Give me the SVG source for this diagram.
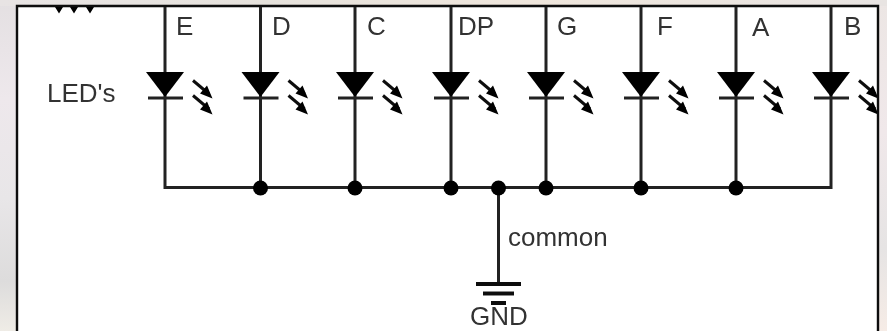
<svg xmlns="http://www.w3.org/2000/svg" width="887" height="331" viewBox="0 0 887 331">
<style>
.w{fill:none;stroke:#222;stroke-width:3}
.a{fill:none;stroke:#111;stroke-width:3}
.t{font-family:"Liberation Sans",Arial,sans-serif;font-size:26px;fill:#333}
.k{fill:#000}
</style>
<defs>
<linearGradient id="bgl" x1="0" y1="0" x2="0" y2="1">
<stop offset="0" stop-color="#e4e0e2"/><stop offset=".3" stop-color="#eee8ec"/><stop offset=".6" stop-color="#e8e6e8"/><stop offset=".85" stop-color="#dddcdc"/><stop offset="1" stop-color="#efece6"/>
</linearGradient>
<linearGradient id="bgr" x1="0" y1="0" x2="0" y2="1">
<stop offset="0" stop-color="#ece6e4"/><stop offset=".4" stop-color="#f0e8ea"/><stop offset=".75" stop-color="#e6e4e4"/><stop offset="1" stop-color="#f6ece6"/>
</linearGradient>
<linearGradient id="bgt" x1="0" y1="0" x2="1" y2="0">
<stop offset="0" stop-color="#e8e4e4"/><stop offset=".3" stop-color="#e6e2dc"/><stop offset=".6" stop-color="#efe6dc"/><stop offset="1" stop-color="#e8e4e2"/>
</linearGradient>
<filter id="b" x="-5%" y="-5%" width="110%" height="110%"><feGaussianBlur stdDeviation="0.7"/></filter>
<clipPath id="cb"><rect x="-40" y="0" width="86" height="331"/></clipPath>
<g id="led">
<path class="k" d="M-19 72H19L0 97Z"/>
<path class="w" d="M-17 98H18"/>
<path class="a" d="M28 80.500L44 94M28 95.500L44 109"/>
<path class="k" d="M47.500 98.500L35 93.500L42 85.500ZM47.500 114.500L35 109.500L42 101.500Z"/>
</g>
</defs>
<rect width="887" height="331" fill="#fff"/>
<rect width="17" height="331" fill="url(#bgl)"/>
<rect x="878" width="9" height="331" fill="url(#bgr)"/>
<rect width="887" height="6" fill="url(#bgt)"/>
<g filter="url(#b)">
<path id="frame" d="M17 331V6H878V331" fill="none" stroke="#0a0a0a" stroke-width="2.400"/>
<g id="connectors">
<path class="w" d="M165 7V187.500H831V7M260.500 7V187.500M355 7V187.500M451 7V187.500M546 7V187.500M641 7V187.500M736 7V187.500M498.500 187.500V284"/>
</g>
<g id="resistors"><path class="k" d="M55 7H63L59 13.500ZM70 7H78L74 13.500ZM86 7H94L90 13.500Z"/></g>
<g id="led-e" transform="translate(165 0)"><use href="#led"/></g>
<g id="led-d" transform="translate(260.500 0)"><use href="#led"/></g>
<g id="led-c" transform="translate(355 0)"><use href="#led"/></g>
<g id="led-dp" transform="translate(451 0)"><use href="#led"/></g>
<g id="led-g" transform="translate(546 0)"><use href="#led"/></g>
<g id="led-f" transform="translate(641 0)"><use href="#led"/></g>
<g id="led-a" transform="translate(736 0)"><use href="#led"/></g>
<g id="led-b" transform="translate(831 0)" clip-path="url(#cb)"><use href="#led"/></g>
<g id="junctions" class="k">
<circle cx="260.500" cy="188" r="7.500"/><circle cx="355" cy="188" r="7.500"/><circle cx="451" cy="188" r="7.500"/><circle cx="498.500" cy="188" r="7.500"/><circle cx="546" cy="188" r="7.500"/><circle cx="641" cy="188" r="7.500"/><circle cx="736" cy="188" r="7.500"/>
</g>
<g id="ground">
<path class="w" style="stroke:#111;stroke-width:4" d="M476 284H521M483 293.500H514M491 303H506"/>
</g>
<g id="labels">
<text class="t" x="176" y="35">E</text>
<text class="t" x="272" y="35">D</text>
<text class="t" x="367" y="35">C</text>
<text class="t" x="458" y="35">DP</text>
<text class="t" x="557" y="35">G</text>
<text class="t" x="657" y="35">F</text>
<text class="t" x="752" y="36">A</text>
<text class="t" x="844" y="35">B</text>
<text class="t" x="47" y="102">LED's</text>
<text class="t" x="508" y="246">common</text>
<text class="t" x="470" y="325.400">GND</text>
</g>
</g>
</svg>
